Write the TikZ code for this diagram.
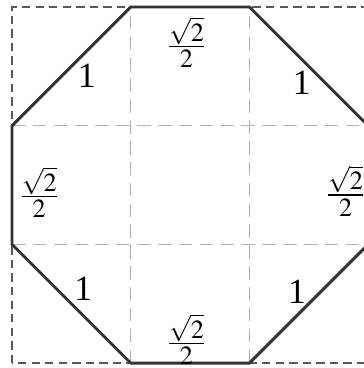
\documentclass[tikz,border=0pt]{standalone}
\usepackage{mathptmx}
\usepackage{fontspec}
\setmainfont{Liberation Serif}
\begin{document}
\begin{tikzpicture}[
    x=2cm, y=2cm,
    edge/.style={
        draw=black!80,
        line width=1.4pt,
        line join=miter
    },
    frame/.style={
        draw=black!65,
        line width=0.7pt,
        dash pattern=on 4pt off 2.5pt
    },
    gridline/.style={
        draw=black!30,
        line width=0.7pt,
        dash pattern=on 6.5pt off 3.5pt
    },
    length/.style={
        font=\fontsize{17}{20}\selectfont,
        inner sep=1pt
    }
]

\useasboundingbox (-0.101,-0.041) rectangle (2.957,3.059);

% ==================================================
% Grid of the square
% ==================================================

\draw[frame] (0,0) rectangle (3,3);

\foreach \k in {1,2}{
    \draw[gridline] (\k,0) -- (\k,3);
    \draw[gridline] (0,\k) -- (3,\k);
}

% ==================================================
% Octagon
% ==================================================

\coordinate (v1) at (1,3);
\coordinate (v2) at (2,3);
\coordinate (v3) at (3,2);
\coordinate (v4) at (3,1);
\coordinate (v5) at (2,0);
\coordinate (v6) at (1,0);
\coordinate (v7) at (0,1);
\coordinate (v8) at (0,2);

\draw[edge] (v1) -- (v2) -- (v3) -- (v4) -- (v5) -- (v6) -- (v7) -- (v8) -- cycle;

% ==================================================
% Side lengths
% ==================================================

\node[length] (top)    at (1.47,2.70) {$\frac{\sqrt{2}}{2}$};
\node[length] (bottom) at (1.47,0.20) {$\frac{\sqrt{2}}{2}$};
\node[length] (left)   at (0.23,1.44) {$\frac{\sqrt{2}}{2}$};
\node[length] (right)  at (2.81,1.45) {$\frac{\sqrt{2}}{2}$};

\node[length] (nw) at (0.63,2.42) {1};
\node[length] (ne) at (2.44,2.36) {1};
\node[length] (sw) at (0.60,0.63) {1};
\node[length] (se) at (2.40,0.60) {1};

\end{tikzpicture}
\end{document}
